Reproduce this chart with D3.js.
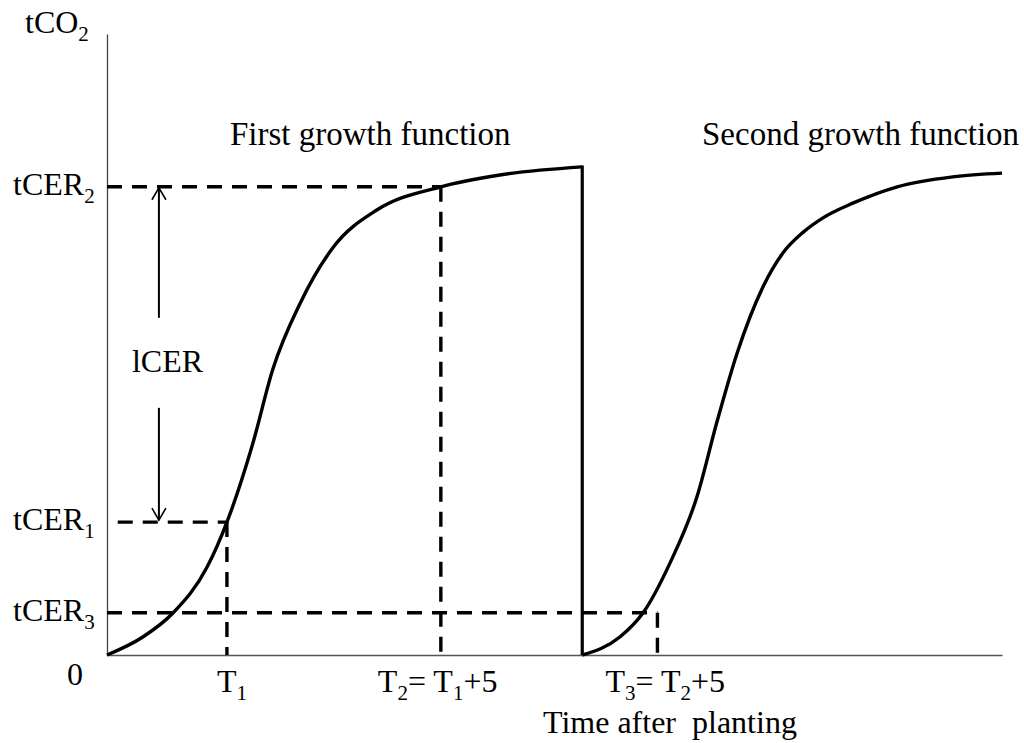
<!DOCTYPE html>
<html>
<head>
<meta charset="utf-8">
<script src="https://cdn.jsdelivr.net/npm/d3@7"></script>
<style>
  html, body { margin: 0; padding: 0; background: #fff; }
  svg text { font-family: "Liberation Serif", "Times New Roman", serif; fill: #000; white-space: pre; }
</style>
</head>
<body>
<svg id="chart" width="1024" height="743"></svg>
<script>
// ---- data (schematic units: time 0..100, tCO2 0..100) ----
const firstGrowthX = [0, 4.0, 7.4, 11.2, 13.4, 16.3, 18.5, 21.6, 25.3, 30.2, 37.3, 43.9, 53.1];
const firstGrowthY = [0, 2.9, 6.8, 14.2, 21.4, 34.1, 45.9, 56.7, 65.7, 71.7, 75.4, 77.3, 78.6];
const secondGrowthX = [53.1, 57.3, 59.9, 62.9, 65.9, 68.2, 70.4, 73.3, 75.5, 77.8, 80.0, 83.4, 88.3, 94.5, 100];
const secondGrowthY = [0, 2.9, 6.8, 14.8, 25.4, 37.8, 48.6, 59.3, 64.7, 68.1, 70.4, 72.8, 75.4, 77.0, 77.6];
const harvestTime = 53.1;
const timeMarks = { T1: 13.4, T2: 37.3, T3: 61.5 };
const cerLevels = { tCER1: 21.4, tCER2: 75.4, tCER3: 6.8 };
const lcerArrowX = 5.8;
const lcerArrowUpper = [75.4, 54.3];
const lcerArrowLower = [39.8, 21.4];
const tCER1DashStart = 1.2;

const titleLabels = ["First growth function", "Second growth function"];
const axisTitleY = [["tCO", false], ["2", true]];
const axisTitleX = "Time after  planting";
const yLabels = [
  { parts: [["tCER", false], ["2", true]], level: "tCER2" },
  { parts: [["tCER", false], ["1", true]], level: "tCER1" },
  { parts: [["tCER", false], ["3", true]], level: "tCER3" }
];
const xLabels = [
  { parts: [["T", false], ["1", true]], at: "T1", dx: -10 },
  { parts: [["T", false], ["2", true], ["= T", false], ["1", true], ["+5", false]], at: "T2", dx: -63 },
  { parts: [["T", false], ["3", true], ["= T", false], ["2", true], ["+5", false]], at: "T3", dx: -52 }
];

// ---- drawing ----
const svg = d3.select("#chart");
const x = d3.scaleLinear().domain([0, 100]).range([107, 1002]);
const y = d3.scaleLinear().domain([0, 100]).range([655, 34]);

const FS = 32, SUB = 21, SUBDY = 8;

function richText(t, parts, fs, sub) {
  parts.forEach(([s, isSub], i) => {
    const prevSub = i > 0 && parts[i - 1][1];
    let dy = 0;
    if (isSub && !prevSub) dy = SUBDY;
    if (!isSub && prevSub) dy = -SUBDY;
    t.append("tspan").text(s)
      .attr("font-size", isSub ? sub : fs)
      .attr("dy", dy);
  });
  return t;
}

// axes (thin lines)
const yAxis = d3.axisLeft(y).tickValues([]).tickSizeOuter(0);
svg.append("g").attr("transform", `translate(${x(0)},0)`).call(yAxis)
  .select(".domain").attr("stroke", "#444").attr("stroke-width", 1.3);
const xAxis = d3.axisBottom(x).tickValues([]).tickSizeOuter(0);
svg.append("g").attr("transform", `translate(0,${y(0)})`).call(xAxis)
  .select(".domain").attr("stroke", "#555").attr("stroke-width", 1.5);

// dashed guides
const dash = "15,10";
const guides = svg.append("g").attr("stroke", "#000").attr("stroke-width", 3.4)
  .attr("stroke-dasharray", dash).attr("fill", "none");
function guide(x1, y1, x2, y2) {
  guides.append("line").attr("x1", x(x1)).attr("y1", y(y1)).attr("x2", x(x2)).attr("y2", y(y2));
}
guide(0, cerLevels.tCER2, timeMarks.T2, cerLevels.tCER2);
guide(timeMarks.T2, cerLevels.tCER2, timeMarks.T2, 0);
guide(tCER1DashStart, cerLevels.tCER1, timeMarks.T1, cerLevels.tCER1);
guide(timeMarks.T1, cerLevels.tCER1, timeMarks.T1, 0);
guide(0, cerLevels.tCER3, timeMarks.T3, cerLevels.tCER3);
guide(timeMarks.T3, cerLevels.tCER3, timeMarks.T3, 0);

// growth curves
const line = d3.line().x(d => x(d[0])).y(d => y(d[1])).curve(d3.curveMonotoneX);
const c1 = firstGrowthX.map((v, i) => [v, firstGrowthY[i]]);
const c2 = secondGrowthX.map((v, i) => [v, secondGrowthY[i]]);
svg.append("path").datum(c1).attr("d", line).attr("fill", "none")
  .attr("stroke", "#000").attr("stroke-width", 3.4);
svg.append("path").datum(c2).attr("d", line).attr("fill", "none")
  .attr("stroke", "#000").attr("stroke-width", 3.4);
// harvest drop
svg.append("line").attr("x1", x(harvestTime)).attr("x2", x(harvestTime))
  .attr("y1", y(firstGrowthY[firstGrowthY.length - 1]) - 1.5).attr("y2", y(0))
  .attr("stroke", "#000").attr("stroke-width", 3.2);

// lCER arrows
const arr = svg.append("g").attr("stroke", "#000").attr("fill", "none").attr("stroke-width", 2);
const ax = x(lcerArrowX);
const yu = y(lcerArrowUpper[0]) + 1, yl = y(lcerArrowLower[1]) - 2;
arr.append("line").attr("x1", ax).attr("x2", ax).attr("y1", yu).attr("y2", y(lcerArrowUpper[1]));
arr.append("path").attr("d", `M${ax - 7},${yu + 12}L${ax},${yu}L${ax + 7},${yu + 12}`).attr("stroke-width", 1.6);
arr.append("line").attr("x1", ax).attr("x2", ax).attr("y1", y(lcerArrowLower[0])).attr("y2", yl);
arr.append("path").attr("d", `M${ax - 7},${yl - 12}L${ax},${yl}L${ax + 7},${yl - 12}`).attr("stroke-width", 1.6);
svg.append("text").attr("x", ax - 27).attr("y", y((lcerArrowUpper[1] + lcerArrowLower[0]) / 2) + 9)
  .attr("font-size", FS).text("lCER");

// titles
svg.append("text").attr("x", 230).attr("y", 145).attr("font-size", 33).text(titleLabels[0]);
svg.append("text").attr("x", 702).attr("y", 145).attr("font-size", 33).text(titleLabels[1]);

// y-axis title
richText(svg.append("text").attr("x", 25).attr("y", 33), axisTitleY, FS, SUB);

// y labels
yLabels.forEach(l => {
  richText(svg.append("text").attr("x", 13).attr("y", y(cerLevels[l.level]) + 8), l.parts, FS, SUB);
});

// x labels
svg.append("text").attr("x", 67).attr("y", 685).attr("font-size", FS).text("0");
xLabels.forEach(l => {
  richText(svg.append("text").attr("x", x(timeMarks[l.at]) + l.dx).attr("y", 692), l.parts, FS, SUB);
});
svg.append("text").attr("x", 543).attr("y", 733).attr("font-size", FS).text(axisTitleX);
</script>
</body>
</html>
